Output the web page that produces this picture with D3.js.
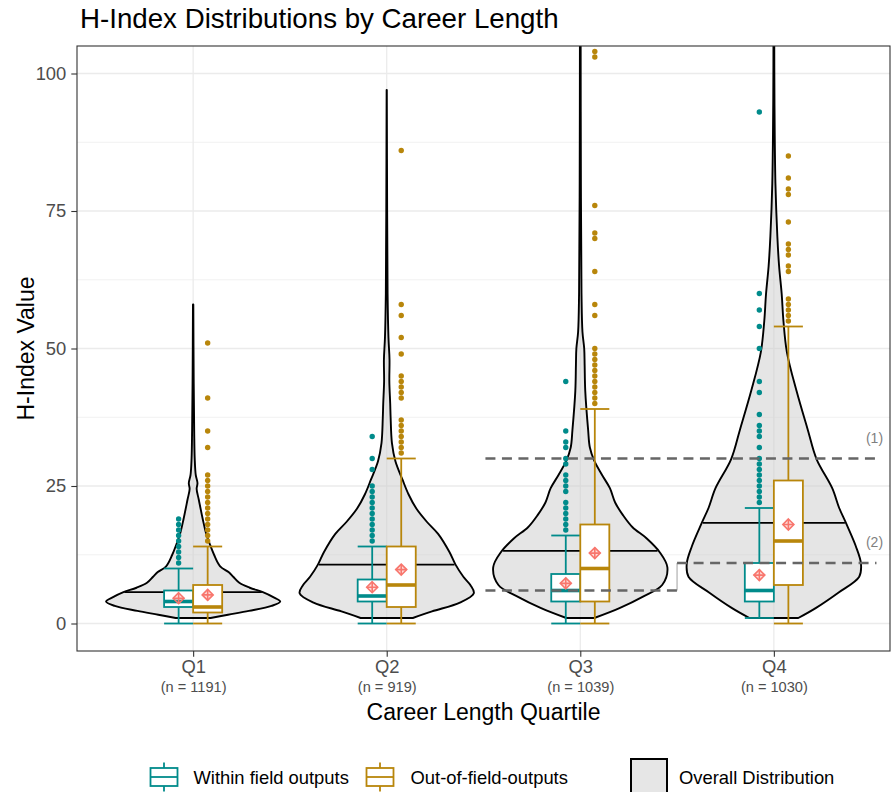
<!DOCTYPE html>
<html>
<head>
<meta charset="utf-8">
<script src="https://cdn.jsdelivr.net/npm/d3@7"></script>
<style>
body { margin: 0; background: #fff; }
text { font-family: "Liberation Sans", Arial, sans-serif; }
</style>
</head>
<body>
<script>
// data
var quartiles = ['Q1', 'Q2', 'Q3', 'Q4'];
var groupSizes = [1191, 919, 1039, 1030];
var yTicks = [0, 25, 50, 75, 100];
var yMinorTicks = [12.5, 37.5, 62.5, 87.5];

// [lower whisker, q1, median, q3, upper whisker]
var withinBox = [[0, 3, 4, 6, 10], [0, 4, 5, 8, 14], [0, 4, 6, 9, 16], [1, 4, 6, 11, 21]];
var outsideBox = [[0, 2, 3, 7, 14], [0, 3, 7, 14, 30], [0, 4, 10, 18, 39], [0, 7, 15, 26, 54]];
var withinMean = [4.6, 6.6, 7.3, 8.8];
var outsideMean = [5.2, 9.8, 12.8, 18.0];

var withinOutliers = [
  [11, 12, 13, 14, 15, 16, 17, 18, 19],
  [15, 16, 17, 18, 19, 20, 21, 22, 23, 24, 25, 28, 30, 34],
  [17, 18, 19, 20, 21, 22, 24, 25, 26, 27, 29, 30, 32, 33, 35, 44],
  [22, 23, 24, 25, 26, 27, 28, 29, 30, 32, 34, 35, 36, 38, 42, 44, 50, 54, 57, 60, 93]
];
var outsideOutliers = [
  [15, 16, 17, 18, 19, 20, 21, 22, 23, 24, 25, 26, 27, 32, 35, 41, 51],
  [31, 32, 33, 34, 35, 36, 37, 41, 42, 43, 44, 45, 49, 52, 56, 58, 86],
  [40, 41, 42, 43, 44, 45, 46, 47, 48, 49, 50, 56, 58, 64, 70, 71, 76, 103, 104],
  [55, 56, 57, 58, 59, 64, 65, 67, 68, 69, 73, 78, 79, 81, 85]
];

// overall distribution: [h-index, relative half width]
var violinQ1 = [[1, 0.2], [1.6, 0.4], [2.3, 0.64], [3.2, 0.9], [4, 1.0], [4.8, 0.92], [5.7, 0.8], [6.5, 0.65],
  [7.4, 0.53], [8.5, 0.46], [9.3, 0.41], [10.4, 0.31], [12.5, 0.24], [14.5, 0.19], [16.3, 0.15], [19, 0.11],
  [22.5, 0.065], [24.5, 0.04], [25.5, 0.05], [27, 0.03], [30, 0.018], [35, 0.012], [45, 0.006], [58, 0.002]];
var violinQ2 = [[1, 0.3], [2.2, 0.52], [3.8, 0.84], [5.5, 1.0], [7, 0.96], [8.5, 0.88], [10.7, 0.79], [13, 0.72],
  [16.3, 0.59], [18.5, 0.46], [20.9, 0.34], [23.5, 0.25], [26.2, 0.18], [29.5, 0.1], [32.8, 0.06], [37.4, 0.045],
  [40, 0.04], [44, 0.03], [48, 0.032], [52, 0.02], [60, 0.01], [75, 0.005], [97, 0.001]];
var violinQ3 = [[1, 0.16], [2.8, 0.45], [4.9, 0.72], [7, 0.94], [10.2, 1.0], [13, 0.91], [15.5, 0.76], [17.5, 0.6],
  [19.7, 0.49], [22, 0.4], [24.6, 0.34], [27, 0.25], [29.6, 0.16], [32, 0.11], [35.2, 0.09], [42.3, 0.057],
  [47, 0.05], [50, 0.045], [53, 0.025], [60, 0.014], [80, 0.007], [110, 0.004]];
var violinQ4 = [[1, 0.28], [2.8, 0.48], [5.6, 0.74], [8.5, 0.98], [10.9, 1.0], [14.1, 0.94], [18.2, 0.83], [21, 0.75],
  [24.6, 0.67], [29.9, 0.49], [35.2, 0.39], [42.3, 0.26], [49.3, 0.15], [55, 0.11], [59.9, 0.09], [65, 0.06],
  [70.4, 0.04], [80, 0.018], [95, 0.007], [110, 0.004]];
var violinMedian = [5.7, 10.7, 13.2, 18.3];

// reference lines over Q3 and Q4
var refQuartiles = ['Q3', 'Q4'];
var refLine1 = [30, 30];
var refLine2 = [6, 11];
var refLabels = ['(1)', '(2)'];

var violins = [violinQ1, violinQ2, violinQ3, violinQ4];

var W = 892, H = 792;
var panelL = 77, panelR = 890, panelT = 46, panelB = 651;
var teal = '#008b8b', gold = '#b8860b', meanCol = '#f8766d';

var svg = d3.select('body').append('svg')
  .attr('width', W)
  .attr('height', H);

var x = d3.scalePoint().domain(quartiles).range([panelL, panelR]).padding(0.6);
var step = x.step();
var y = d3.scaleLinear().domain([-5, 105]).range([panelB, panelT]);
var maxHalf = 0.45 * step;
var boxW = 0.15 * step;

svg.append('defs').append('clipPath').attr('id', 'panel')
  .append('rect').attr('x', panelL).attr('y', panelT).attr('width', panelR - panelL).attr('height', panelB - panelT);

// grid
var grid = svg.append('g');
grid.selectAll('.minor').data(yMinorTicks).enter().append('line')
  .attr('x1', panelL).attr('x2', panelR)
  .attr('y1', function(d) { return y(d); }).attr('y2', function(d) { return y(d); })
  .attr('stroke', '#ebebeb').attr('stroke-width', 0.7);
grid.selectAll('.major').data(yTicks).enter().append('line')
  .attr('x1', panelL).attr('x2', panelR)
  .attr('y1', function(d) { return y(d); }).attr('y2', function(d) { return y(d); })
  .attr('stroke', '#ebebeb').attr('stroke-width', 1.3);
grid.selectAll('.vmajor').data(quartiles).enter().append('line')
  .attr('x1', function(d) { return x(d); }).attr('x2', function(d) { return x(d); })
  .attr('y1', panelT).attr('y2', panelB)
  .attr('stroke', '#ebebeb').attr('stroke-width', 1.3);

var plot = svg.append('g').attr('clip-path', 'url(#panel)');

// violins
quartiles.forEach(function(q, i) {
  var cx = x(q);
  var prof = violins[i];
  var area = d3.area()
    .curve(d3.curveCatmullRom.alpha(0.5))
    .y(function(d) { return y(d[0]); })
    .x0(function(d) { return cx - d[1] * maxHalf; })
    .x1(function(d) { return cx + d[1] * maxHalf; });
  plot.append('path').datum(prof)
    .attr('d', area)
    .attr('fill', '#cccccc').attr('fill-opacity', 0.5)
    .attr('stroke', '#000').attr('stroke-width', 1.9).attr('stroke-linejoin', 'round');
  var widthAt = d3.scaleLinear().domain(prof.map(function(d) { return d[0]; }))
    .range(prof.map(function(d) { return d[1]; }));
  var hw = widthAt(violinMedian[i]) * maxHalf - 1;
  plot.append('line')
    .attr('x1', cx - hw).attr('x2', cx + hw)
    .attr('y1', y(violinMedian[i])).attr('y2', y(violinMedian[i]))
    .attr('stroke', '#000').attr('stroke-width', 1.8);
});

// box plots
function drawBox(g, cx, s, col) {
  g.append('line').attr('x1', cx).attr('x2', cx).attr('y1', y(s[0])).attr('y2', y(s[1]))
    .attr('stroke', col).attr('stroke-width', 1.8);
  g.append('line').attr('x1', cx).attr('x2', cx).attr('y1', y(s[3])).attr('y2', y(s[4]))
    .attr('stroke', col).attr('stroke-width', 1.8);
  [s[0], s[4]].forEach(function(v) {
    g.append('line').attr('x1', cx - boxW / 2).attr('x2', cx + boxW / 2)
      .attr('y1', y(v)).attr('y2', y(v))
      .attr('stroke', col).attr('stroke-width', 1.8);
  });
  g.append('rect')
    .attr('x', cx - boxW / 2).attr('width', boxW)
    .attr('y', y(s[3])).attr('height', y(s[1]) - y(s[3]))
    .attr('fill', '#fff').attr('stroke', col).attr('stroke-width', 1.8);
  g.append('line').attr('x1', cx - boxW / 2).attr('x2', cx + boxW / 2)
    .attr('y1', y(s[2])).attr('y2', y(s[2]))
    .attr('stroke', col).attr('stroke-width', 3.6);
}

function drawOutliers(g, cx, vals, col) {
  g.selectAll(null).data(vals).enter().append('circle')
    .attr('cx', cx).attr('cy', function(d) { return y(d); })
    .attr('r', 2.7).attr('fill', col);
}

function drawMean(g, cx, v) {
  var m = g.append('g').attr('transform', 'translate(' + cx + ',' + y(v) + ')')
    .attr('stroke', meanCol).attr('stroke-width', 1.6).attr('fill', 'none');
  m.append('path').attr('d', 'M0,-5.5L5.5,0L0,5.5L-5.5,0Z').attr('fill', meanCol).attr('fill-opacity', 0.25);
  m.append('path').attr('d', 'M0,-5.5V5.5M-5.5,0H5.5');
}

quartiles.forEach(function(q, i) {
  var cw = x(q) - boxW / 2, co = x(q) + boxW / 2;
  drawBox(plot, cw, withinBox[i], teal);
  drawBox(plot, co, outsideBox[i], gold);
  drawOutliers(plot, cw, withinOutliers[i], teal);
  drawOutliers(plot, co, outsideOutliers[i], gold);
  drawMean(plot, cw, withinMean[i]);
  drawMean(plot, co, outsideMean[i]);
});

// reference lines
var xr = function(q, off) { return x(q) + off * step; };
plot.append('line')
  .attr('x1', xr('Q3', 0.5)).attr('x2', xr('Q3', 0.5))
  .attr('y1', y(refLine2[0])).attr('y2', y(refLine2[1]))
  .attr('stroke', '#c4c4c4').attr('stroke-width', 1.6);
plot.append('line')
  .attr('x1', xr('Q3', -0.49)).attr('x2', xr('Q4', 0.53))
  .attr('y1', y(refLine1[0])).attr('y2', y(refLine1[1]))
  .attr('stroke', '#666').attr('stroke-width', 2.4).attr('stroke-dasharray', '10,6.5');
refQuartiles.forEach(function(q, i) {
  var x1 = i === 0 ? xr(q, -0.49) : xr(q, -0.5);
  var x2 = i === 0 ? xr(q, 0.5) : xr(q, 0.53);
  plot.append('line')
    .attr('x1', x1).attr('x2', x2)
    .attr('y1', y(refLine2[i])).attr('y2', y(refLine2[i]))
    .attr('stroke', '#666').attr('stroke-width', 2.4).attr('stroke-dasharray', '10,6.5');
});
svg.selectAll('.reflab').data(refLabels).enter().append('text')
  .attr('x', xr('Q4', 0.52))
  .attr('y', function(d, i) { return y(i === 0 ? refLine1[1] : refLine2[1]) - 16; })
  .attr('text-anchor', 'middle')
  .attr('font-size', 14).attr('fill', '#7f7f7f')
  .text(function(d) { return d; });

// panel border
svg.append('rect')
  .attr('x', panelL).attr('y', panelT).attr('width', panelR - panelL).attr('height', panelB - panelT)
  .attr('fill', 'none').attr('stroke', '#333').attr('stroke-width', 1.1);

// axes
var yAxis = svg.append('g').attr('transform', 'translate(' + panelL + ',0)')
  .call(d3.axisLeft(y).tickValues(yTicks).tickSize(5.7).tickPadding(5));
yAxis.select('.domain').remove();
yAxis.selectAll('line').attr('stroke', '#333').attr('stroke-width', 1.1);
yAxis.selectAll('text').attr('font-size', 18.4).attr('fill', '#4d4d4d')
  .attr('font-family', '"Liberation Sans", Arial, sans-serif');

var xAxis = svg.append('g').attr('transform', 'translate(0,' + panelB + ')')
  .call(d3.axisBottom(x).tickSize(5.7).tickFormat(''));
xAxis.select('.domain').remove();
xAxis.selectAll('line').attr('stroke', '#333').attr('stroke-width', 1.1);
xAxis.selectAll('.tick').append('text')
  .attr('y', 22).attr('text-anchor', 'middle')
  .attr('font-size', 18.4).attr('fill', '#4d4d4d')
  .text(function(d) { return d; });
xAxis.selectAll('.tick').append('text')
  .attr('y', 41).attr('text-anchor', 'middle')
  .attr('font-size', 14.6).attr('fill', '#4d4d4d')
  .text(function(d, i) { return '(n = ' + groupSizes[i] + ')'; });

// titles
svg.append('text').attr('x', 80).attr('y', 28)
  .attr('font-size', 27.7).attr('fill', '#000')
  .text('H-Index Distributions by Career Length');
svg.append('text').attr('x', (panelL + panelR) / 2).attr('y', 720)
  .attr('text-anchor', 'middle').attr('font-size', 23).attr('fill', '#000')
  .text('Career Length Quartile');
svg.append('text')
  .attr('transform', 'translate(34,' + (panelT + panelB) / 2 + ') rotate(-90)')
  .attr('text-anchor', 'middle').attr('font-size', 23).attr('fill', '#000')
  .text('H-Index Value');

// legend
var keyY = 759, keyS = 36;
function boxKey(kx, col) {
  var g = svg.append('g').attr('stroke', col).attr('fill', '#fff');
  var cx = kx + keyS / 2;
  g.append('line').attr('x1', cx).attr('x2', cx).attr('y1', keyY + keyS * 0.1).attr('y2', keyY + keyS * 0.25).attr('stroke-width', 1.8);
  g.append('line').attr('x1', cx).attr('x2', cx).attr('y1', keyY + keyS * 0.75).attr('y2', keyY + keyS * 0.9).attr('stroke-width', 1.8);
  g.append('rect').attr('x', kx + keyS * 0.125).attr('width', keyS * 0.75)
    .attr('y', keyY + keyS * 0.25).attr('height', keyS * 0.5).attr('stroke-width', 1.8);
  g.append('line').attr('x1', kx + keyS * 0.125).attr('x2', kx + keyS * 0.875)
    .attr('y1', keyY + keyS / 2).attr('y2', keyY + keyS / 2).attr('stroke-width', 1.8);
}
boxKey(146, teal);
boxKey(362, gold);
svg.append('rect').attr('x', 631).attr('y', keyY).attr('width', keyS).attr('height', keyS)
  .attr('fill', '#e6e6e6').attr('stroke', '#000').attr('stroke-width', 2);

var legendItems = [['Within field outputs', 193.5], ['Out-of-field-outputs', 410.5], ['Overall Distribution', 679]];
svg.selectAll('.leg').data(legendItems).enter().append('text')
  .attr('x', function(d) { return d[1]; }).attr('y', 784)
  .attr('font-size', 18.4).attr('fill', '#000')
  .text(function(d) { return d[0]; });
</script>
</body>
</html>
